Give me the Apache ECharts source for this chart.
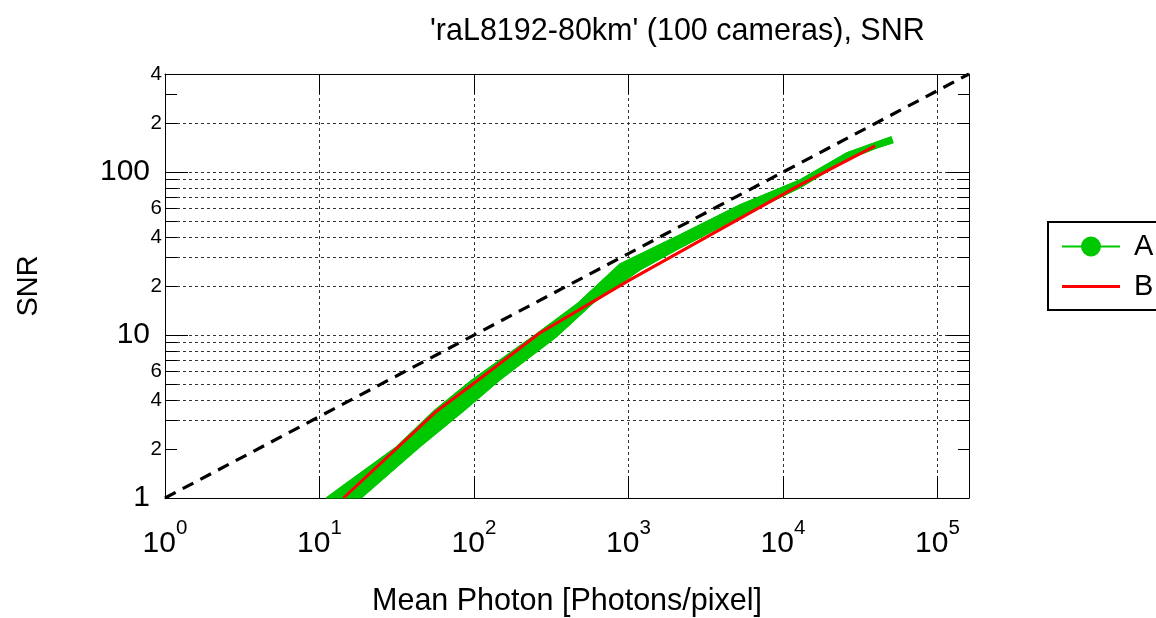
<!DOCTYPE html>
<html><head><meta charset="utf-8">
<script src="https://cdn.jsdelivr.net/npm/echarts@6/dist/echarts.min.js"></script>
<style>html,body{margin:0;padding:0;background:#fff}#c{width:1156px;height:618px}</style>
</head><body><div id="c"></div>
<script>
const FONT = "'Liberation Sans', Arial, Helvetica, sans-serif";
// Series A: envelope of the 100-camera bundle (upper/left and lower/right edges)
const aUpperX = [11.05, 14.9, 31.4, 55.6, 96.6, 258.7, 470, 880, 2154, 5270, 12900, 25900, 50200];
const aUpperY = [1.00, 1.231, 2.058, 3.46, 5.29, 10.3, 15.7, 27.3, 41.2, 63.0, 89.7, 131.4, 164.8];
const aLowerX = [18.6, 44.5, 87.0, 146.8, 342, 590, 1186, 2154, 5270, 12900, 25900, 40500, 51700];
const aLowerY = [1.00, 2.058, 3.46, 5.29, 9.76, 15.7, 25.1, 34.2, 53.1, 80.1, 119, 140.5, 151.4];
// Series B
const bX = [14.3, 57.3, 104, 266.6, 1021, 12900, 39500];
const bY = [1.0, 3.41, 5.21, 10.3, 21.8, 83.5, 145];
// Reference line SNR = sqrt(N)
const refX = [1, 160000];
const refY = [1, 400];
// Axes
const xMin = 1, xMax = 160000, yMin = 1, yMax = 400;
const xExponents = [0, 1, 2, 3, 4, 5];
const yMajorTicks = [1, 10, 100];
const yMinorTicks = [2,3,4,5,6,7,8,9,20,30,40,50,60,70,80,90,200,300];
const yMinorLabels = [2, 4, 6, 20, 40, 60, 200, 400];

const GREEN = '#00c800', RED = '#ff0000';
const pairs = (xs, ys) => xs.map((x, i) => [x, ys[i]]);
const aUpper = pairs(aUpperX, aUpperY);
const aLower = pairs(aLowerX, aLowerY);
const near = (a, b) => Math.abs(a - b) < 1e-6 * Math.max(1, Math.abs(b));

const gridStyle = { color: '#333', type: [3, 3], width: 1 };
const tickStyle = { color: '#000', width: 1 };

const chart = echarts.init(document.getElementById('c'), null, { renderer: 'canvas' });
chart.setOption({
  animation: false,
  backgroundColor: '#fff',
  textStyle: { fontFamily: FONT },
  title: {
    text: "'raL8192-80km' (100 cameras), SNR",
    left: 430, top: 16, padding: 0,
    textStyle: { fontFamily: FONT, fontSize: 30.5, fontWeight: 'normal', color: '#000' }
  },
  legend: {
    orient: 'vertical', left: 1048, top: 222,
    padding: [10, 24, 9, 13],
    itemWidth: 58, itemHeight: 25, itemGap: 11,
    borderColor: '#000', borderWidth: 2, borderRadius: 0,
    backgroundColor: '#fff',
    textStyle: { fontFamily: FONT, fontSize: 29, color: '#000', padding: [0, 0, 0, 9] },
    data: [{ name: 'A' }, { name: 'B', icon: 'path://M0 0H60V3H0Z' }],
    selectedMode: false
  },
  grid: { left: 165, right: 187, top: 74, bottom: 120, containLabel: false, outerBoundsMode: 'none' },
  xAxis: [{
    type: 'log', logBase: 10, min: xMin, max: xMax, position: 'bottom',
    name: 'Mean Photon [Photons/pixel]', nameLocation: 'middle', nameGap: 88,
    nameTextStyle: { fontFamily: FONT, fontSize: 30.5, color: '#000' },
    axisLine: { show: true, lineStyle: { color: '#000', width: 1 } },
    axisTick: { show: true, inside: true, length: 22, lineStyle: tickStyle },
    minorTick: { show: false },
    splitLine: { show: true, showMinLine: false, showMaxLine: false, lineStyle: gridStyle },
    axisLabel: {
      margin: 20, color: '#000',
      formatter: function (v) {
        const e = Math.log10(v);
        const r = Math.round(e);
        if (Math.abs(e - r) > 1e-6 || xExponents.indexOf(r) < 0) return '';
        return '{b|10}{e|' + r + '}';
      },
      rich: {
        b: { fontFamily: FONT, fontSize: 30, color: '#000', padding: [11, 0, 0, 0], verticalAlign: 'bottom' },
        e: { fontFamily: FONT, fontSize: 20.5, color: '#000', verticalAlign: 'top' }
      }
    }
  }, {
    type: 'log', logBase: 10, min: xMin, max: xMax, position: 'top',
    axisLine: { show: true, lineStyle: { color: '#000', width: 1 } },
    axisTick: { show: true, inside: true, length: 20, lineStyle: tickStyle },
    axisLabel: { show: false }, splitLine: { show: false }
  }],
  yAxis: [{
    type: 'log', logBase: 10, min: yMin, max: yMax, position: 'left',
    name: 'SNR', nameLocation: 'middle', nameGap: 122,
    nameTextStyle: { fontFamily: FONT, fontSize: 29, color: '#000' },
    axisLine: { show: true, lineStyle: { color: '#000', width: 1 } },
    axisTick: { show: true, inside: true, length: 23, lineStyle: tickStyle },
    splitLine: { show: true, showMinLine: false, showMaxLine: false, lineStyle: gridStyle },
    axisLabel: {
      margin: 15, color: '#000', fontFamily: FONT, fontSize: 30,
      formatter: function (v) {
        for (const t of yMajorTicks) if (near(v, t)) return String(t);
        return '';
      }
    }
  }, {
    type: 'log', logBase: 10, min: yMin, max: yMax, position: 'left',
    axisLine: { show: false },
    axisTick: { show: true, inside: true, length: 12, lineStyle: tickStyle, customValues: yMinorTicks },
    splitLine: { show: true, showMinLine: false, showMaxLine: false, lineStyle: gridStyle },
    axisLabel: {
      margin: 3, color: '#000', fontFamily: FONT, fontSize: 20.5,
      customValues: yMinorLabels,
      formatter: function (v) {
        const p = Math.pow(10, Math.floor(Math.log10(v) + 1e-9));
        return String(Math.round(v / p));
      }
    }
  }, {
    type: 'log', logBase: 10, min: yMin, max: yMax, position: 'right',
    axisLine: { show: true, lineStyle: { color: '#000', width: 1 } },
    axisTick: { show: true, inside: true, length: 22, lineStyle: tickStyle },
    axisLabel: { show: false }, splitLine: { show: false }
  }, {
    type: 'log', logBase: 10, min: yMin, max: yMax, position: 'right',
    axisLine: { show: false },
    axisTick: { show: true, inside: true, length: 11, lineStyle: tickStyle, customValues: yMinorTicks },
    axisLabel: { show: false }, splitLine: { show: false }
  }],
  series: [{
    name: 'A', type: 'line', xAxisIndex: 0, yAxisIndex: 0, z: 3,
    data: aUpper, symbol: 'circle', showSymbol: false, silent: true,
    itemStyle: { color: GREEN }, lineStyle: { color: GREEN, width: 1.2 }
  }, {
    name: 'A', type: 'line', xAxisIndex: 0, yAxisIndex: 0, z: 3,
    data: aLower, symbol: 'circle', showSymbol: false, silent: true,
    itemStyle: { color: GREEN }, lineStyle: { color: GREEN, width: 1.2 }
  }, {
    name: 'A', type: 'custom', coordinateSystem: 'cartesian2d', xAxisIndex: 0, yAxisIndex: 0, z: 2,
    silent: true, data: [[100, 10]],
    itemStyle: { color: GREEN },
    renderItem: function (params, api) {
      const pts = [];
      aUpper.forEach(p => pts.push(api.coord(p)));
      for (let i = aLower.length - 1; i >= 0; i--) pts.push(api.coord(aLower[i]));
      return { type: 'polygon', shape: { points: pts }, style: { fill: GREEN, stroke: GREEN, lineWidth: 1 } };
    }
  }, {
    name: 'B', type: 'line', xAxisIndex: 0, yAxisIndex: 0, z: 5,
    data: pairs(bX, bY), symbol: 'none', silent: true,
    itemStyle: { color: RED }, lineStyle: { color: RED, width: 3 }
  }, {
    name: 'ref', type: 'line', xAxisIndex: 0, yAxisIndex: 0, z: 6,
    data: pairs(refX, refY), symbol: 'none', silent: true,
    itemStyle: { color: '#000' }, lineStyle: { color: '#000', width: 3.2, type: [12, 8] }
  }]
});
</script>
</body></html>
